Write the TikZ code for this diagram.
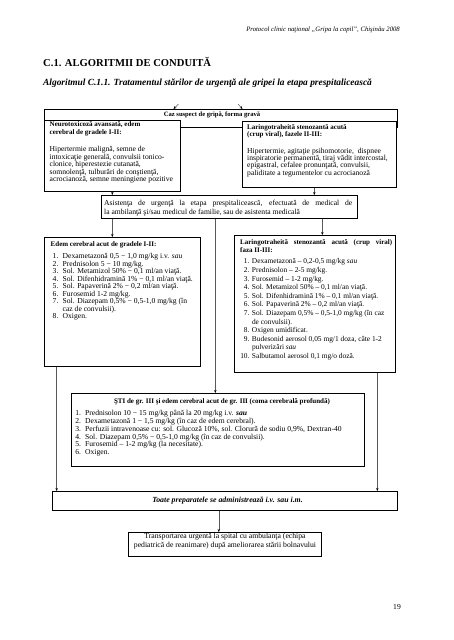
\documentclass[tikz,border=0pt]{standalone}
\usepackage{fontspec}
\setmainfont{Liberation Serif}
\usetikzlibrary{arrows.meta,calc,shadows}
\newlength\labw \newlength\labsep
\newcommand\nitem[2]{\makebox[\labw][r]{#1}\hspace{\labsep}#2}
\newcommand\ncont[1]{\hspace{\labw}\hspace{\labsep}#1}
\begin{document}
\begin{tikzpicture}[x=1pt,y=-1pt,
 box/.style={draw=black,line width=0.6pt,fill=white,inner sep=0pt,anchor=north west,
   drop shadow={shadow xshift=0.8pt,shadow yshift=-0.8pt,fill=black!45,opacity=1}},
 txt/.style={inner sep=0pt,anchor=north west,align=left,font=\fontsize{7.6}{7.5}\selectfont},
 btxt/.style={txt,font=\fontsize{7}{7.8}\selectfont\bfseries},
 arr/.style={draw=black!65,line width=0.5pt,-{Stealth[length=3pt,width=2.4pt,color=black]}},
 ln/.style={draw=black!65,line width=0.5pt}]
\useasboundingbox[fill=white] (0,0) rectangle (453,640);

% page header
\node[inner sep=0pt,anchor=east,font=\fontsize{6.7}{8}\selectfont\itshape] (hdr) at (400,30)
  {Protocol clinic naţional „Gripa la copil”, Chişinău 2008};
\node[inner sep=0pt,anchor=west,font=\fontsize{10.6}{12}\selectfont\bfseries] (sec) at (43,62)
  {C.1. ALGORITMII DE CONDUITĂ};
\node[inner sep=0pt,anchor=west,font=\fontsize{9.4}{11}\selectfont\bfseries\itshape] (alg) at (43,83)
  {Algoritmul C.1.1. Tratamentul stărilor de urgenţă ale gripei la etapa prespitalicească};

% boxes
\node[box,minimum width=353pt,minimum height=18pt] (caz) at (44,109) {};
\node[inner sep=0pt,font=\fontsize{6.6}{7.4}\selectfont\bfseries] (cazT) at (212,115)
  {Caz suspect de gripă, forma gravă};
\node[box,minimum width=136pt,minimum height=71pt] (neuro) at (44,120) {};
\node[box,minimum width=154pt,minimum height=66pt] (laring) at (242,121) {};
\node[box,minimum width=256pt,minimum height=23pt] (asist) at (101,195) {};
\node[box,minimum width=156pt,minimum height=129pt] (edem) at (44,237) {};
\node[box,minimum width=161pt,minimum height=137pt] (laring2) at (234,235) {};
\node[box,minimum width=293pt,minimum height=73pt] (sti) at (71,393) {};
\node[box,minimum width=345pt,minimum height=19pt] (toate) at (52,491) {};
\node[box,minimum width=193pt,minimum height=24pt] (transp) at (128,532) {};

% texts
\node[btxt] (neuroT) at (49.5,121.5) {Neurotoxicoză avansată, edem\\cerebral de gradele I-II:};
\node[txt] (neuroB) at (49.5,146.3) {Hipertermie malignă, semne de\\intoxicaţie generală, convulsii tonico-\\clonice, hiperestezie cutanată,\\somnolenţă, tulburări de conştienţă,\\acrocianoză, semne meningiene pozitive};

\node[btxt] (laringT) at (247,124) {Laringotraheită stenozantă acută\\(crup viral), fazele II-III:};
\node[txt,font=\fontsize{7.6}{7.2}\selectfont] (laringB) at (247,148) {Hipertermie, agitaţie psihomotorie,\ \ dispnee\\inspiratorie permanentă, tiraj vădit intercostal,\\epigastral, cefalee pronunţată, convulsii,\\paliditate a tegumentelor cu acrocianoză};

\node[txt,font=\fontsize{7.6}{9}\selectfont,text width=248pt,align=justify] (asistT) at (104,200.2)
  {Asistenţa de urgenţă la etapa prespitalicească, efectuată de medical de\linebreak la ambilanţă şi/sau medicul de familie, sau de asistenta medicală};

\node[btxt] (edemT) at (50.5,241.2) {Edem cerebral acut de gradele I-II:};
\node[txt,font=\fontsize{7.6}{7.5}\selectfont\setlength\labw{7.7pt}\setlength\labsep{4.3pt}] (edemB) at (50.5,253.5) {%
\nitem{1.}{Dexametazonă 0,5 − 1,0 mg/kg i.v. \textit{sau}}\\
\nitem{2.}{Prednisolon 5 − 10 mg/kg.}\\
\nitem{3.}{Sol. Metamizol 50\% − 0,1 ml/an viaţă.}\\
\nitem{4.}{Sol. Difenhidramină 1\% − 0,1 ml/an viaţă.}\\
\nitem{5.}{Sol. Papaverină 2\% − 0,2 ml/an viaţă.}\\
\nitem{6.}{Furosemid 1-2 mg/kg.}\\
\nitem{7.}{Sol. Diazepam 0,5\% − 0,5-1,0 mg/kg (în}\\
\ncont{caz de convulsii).}\\
\nitem{8.}{Oxigen.}};

\node[btxt,font=\fontsize{7}{8.3}\selectfont\bfseries,text width=152pt,align=justify] (laring2T) at (240,239.5)
  {Laringotraheită stenozantă acută (crup viral)\linebreak faza II-III:};
\node[txt,font=\fontsize{7.4}{8.6}\selectfont\setlength\labw{9.3pt}\setlength\labsep{2.5pt}] (laring2B) at (240,258.6) {%
\nitem{1.}{Dexametazonă – 0,2-0,5 mg/kg \textit{sau}}\\
\nitem{2.}{Prednisolon – 2-5 mg/kg.}\\
\nitem{3.}{Furosemid – 1-2 mg/kg.}\\
\nitem{4.}{Sol. Metamizol 50\% – 0,1 ml/an viaţă.}\\
\nitem{5.}{Sol. Difenhidramină 1\% – 0,1 ml/an viaţă.}\\
\nitem{6.}{Sol. Papaverină 2\% – 0,2 ml/an viaţă.}\\
\nitem{7.}{Sol. Diazepam 0,5\% – 0,5-1,0 mg/kg (în caz}\\
\ncont{de convulsii).}\\
\nitem{8.}{Oxigen umidificat.}\\
\nitem{9.}{Budesonid aerosol 0,05 mg/1 doza, câte 1-2}\\
\ncont{pulverizări \textit{sau}}\\
\nitem{10.}{Salbutamol aerosol 0,1 mg/o doză.}};

\node[inner sep=0pt,font=\fontsize{7}{7.8}\selectfont\bfseries] (stiT) at (222,401.5)
  {ŞTI de gr. III şi edem cerebral acut de gr. III (coma cerebrală profundă)};
\node[txt,font=\fontsize{7.6}{7.8}\selectfont\setlength\labw{5.8pt}\setlength\labsep{4.2pt}] (stiB) at (75,410.2) {%
\nitem{1.}{Prednisolon 10 − 15 mg/kg până la 20 mg/kg i.v. \textbf{\textit{sau}}}\\
\nitem{2.}{Dexametazonă 1 − 1,5 mg/kg (în caz de edem cerebral).}\\
\nitem{3.}{Perfuzii intravenoase cu: sol. Glucoză 10\%, sol. Clorură de sodiu 0,9\%, Dextran-40}\\
\nitem{4.}{Sol. Diazepam 0,5\% − 0,5-1,0 mg/kg (în caz de convulsii).}\\
\nitem{5.}{Furosemid – 1-2 mg/kg (la necesitate).}\\
\nitem{6.}{Oxigen.}};

\node[inner sep=0pt,font=\fontsize{7.8}{8}\selectfont\bfseries\itshape] (toateT) at (227.5,500.5)
  {Toate preparatele se administrează i.v. sau i.m.};
\node[inner sep=0pt,align=center,font=\fontsize{7.7}{9}\selectfont] (transpT) at (225,541.5)
  {Transportarea urgentă la spital cu ambulanţa (echipa\\pediatrică de reanimare) după ameliorarea stării bolnavului};

\node[inner sep=0pt,font=\fontsize{7.6}{8}\selectfont] (pg) at (397,607) {19};

% connectors
\coordinate (in1) at (178.5,104);
\coordinate (in2) at (238,104);
\draw[arr] (in1) -- (173.5,109);
\draw[arr] (in2) -- (242.5,109);

\draw[arr] (neuro.south) -- (neuro.south |- asist.north);
\draw[arr] ([xshift=-5pt]laring.south) -- ([xshift=-5pt]laring.south |- asist.north);

\coordinate (aL) at (asist.south -| neuro.south);
\coordinate (aM) at ([xshift=-14pt]asist.south);
\coordinate (aR) at ([xshift=93pt]asist.south);
\draw[arr] (aL) -- (aL |- edem.north);
\draw[arr] (aR) -- (aR |- laring2.north);
\draw[arr] (aM) -- (aM |- sti.north);

\coordinate (eB) at ([xshift=12.7pt]edem.south west);
\coordinate (lB) at ([xshift=-18.3pt]laring2.south east);
\draw[arr] (eB) -- (eB |- toate.north);
\draw[arr] (lB) -- (lB |- toate.north);

\coordinate (tB) at ([xshift=-6pt]toate.south);
\draw[arr] (tB) -- (tB |- transp.north);
\end{tikzpicture}
\end{document}
